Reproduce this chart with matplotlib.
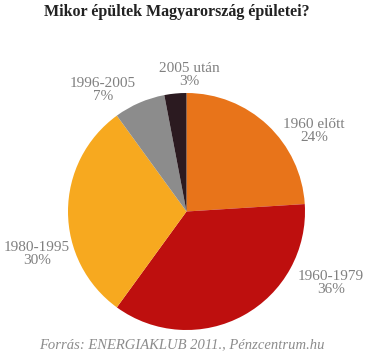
import matplotlib
matplotlib.use("Agg")
import matplotlib.pyplot as plt

CATEGORIES = ["1960 előtt", "1960-1979", "1980-1995", "1996-2005", "2005 után"]
SHARES = [24, 36, 30, 7, 3]

COLORS = ["#E8741A", "#BE0F0E", "#F7A91F", "#8C8C8C", "#2B1A20"]

# label centres in pixels (x from left, y from top)
LABEL_POS = [(314, 131), (331, 283), (37, 254), (103, 90), (189, 75)]

W, H = 366, 354

plt.rcParams["font.family"] = ["Liberation Serif", "DejaVu Serif"]

fig = plt.figure(figsize=(W / 100, H / 100), dpi=100)
fig.patch.set_facecolor("#FFFFFF")

# pie centre about (186.5, 211.5), radius 118.5 px
ax = fig.add_axes([68 / W, (H - 330) / H, 237 / W, 237 / H])
ax.pie(
    SHARES,
    colors=COLORS,
    startangle=90,
    counterclock=False,
    radius=1.0,
    wedgeprops={"linewidth": 0},
)
ax.set_xlim(-1, 1)
ax.set_ylim(-1, 1)
ax.set_aspect("equal")
ax.axis("off")

for name, share, (px, py) in zip(CATEGORIES, SHARES, LABEL_POS):
    fig.text(
        px / W,
        1 - py / H,
        f"{name}\n{share}%",
        ha="center",
        va="center",
        color="#808080",
        fontsize=11,
        linespacing=1.0,
    )

fig.text(
    177 / W,
    1 - 12 / H,
    "Mikor épültek Magyarország épületei?",
    ha="center",
    va="center",
    color="#222222",
    fontsize=11.5,
    fontweight="bold",
)

fig.text(
    182 / W,
    1 - 345 / H,
    "Forrás: ENERGIAKLUB 2011., Pénzcentrum.hu",
    ha="center",
    va="center",
    color="#8C8C8C",
    fontsize=10.5,
    style="italic",
)

fig.savefig("out.png", dpi=100)
